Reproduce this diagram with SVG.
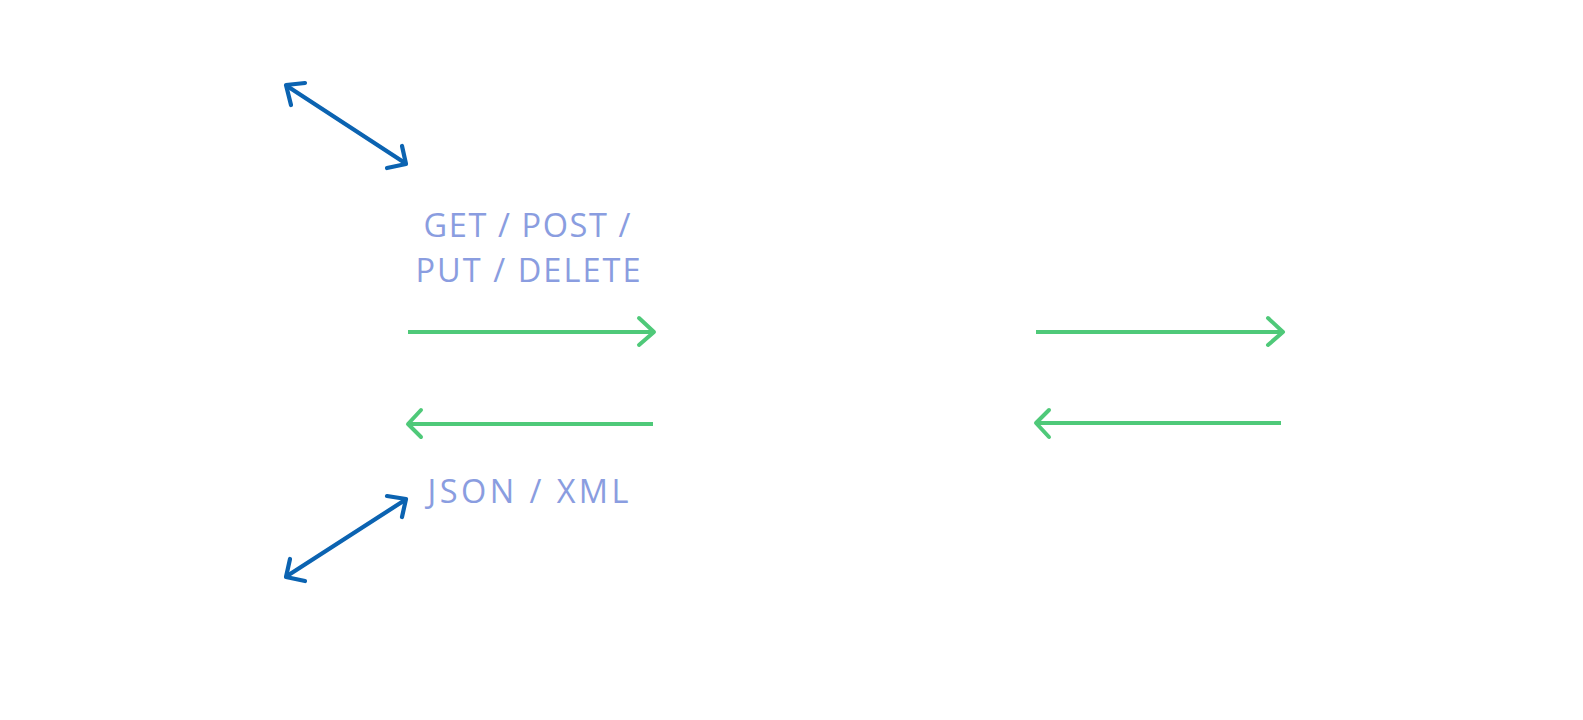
<svg xmlns="http://www.w3.org/2000/svg" width="1583" height="720" viewBox="0 0 1583 720">
<style>
.bg{fill:#ffffff}
.green{fill:none;stroke:#4fc979;stroke-width:4;stroke-linecap:round;stroke-linejoin:round}
.green-line{fill:none;stroke:#4fc979;stroke-width:4}
.blue{fill:none;stroke:#0b63b1;stroke-width:4.2;stroke-linecap:round;stroke-linejoin:round}
.lbl{font-family:"Open Sans","Liberation Sans",sans-serif;font-size:32.5px;fill:#8a9de0;text-anchor:middle}
</style>
<rect class="bg" x="0" y="0" width="1583" height="720"/>
<g id="labels">
  <g id="label-request">
    <text class="lbl" x="527" y="237" textLength="207" lengthAdjust="spacing">GET / POST /</text>
    <text class="lbl" x="528" y="282" textLength="225" lengthAdjust="spacing">PUT / DELETE</text>
  </g>
  <g id="label-response">
    <text class="lbl" x="528" y="503" textLength="201" lengthAdjust="spacing">JSON / XML</text>
  </g>
</g>
<g id="connectors">
  <g id="client-to-api">
    <line class="green-line" x1="408" y1="332" x2="653" y2="332"/>
    <polyline class="green" points="639,318 654,332 639,345"/>
  </g>
  <g id="api-to-client">
    <line class="green-line" x1="653" y1="424" x2="409" y2="424"/>
    <polyline class="green" points="421,410 408,424 421,437"/>
  </g>
  <g id="api-to-db">
    <line class="green-line" x1="1036" y1="332" x2="1281" y2="332"/>
    <polyline class="green" points="1268,318 1283,332 1268,345"/>
  </g>
  <g id="db-to-api">
    <line class="green-line" x1="1281" y1="423" x2="1037" y2="423"/>
    <polyline class="green" points="1049,410 1036,423 1049,437"/>
  </g>
  <g id="top-double">
    <line class="blue" x1="287" y1="86" x2="405" y2="163"/>
    <polyline class="blue" points="305,83 286,85 291,105"/>
    <polyline class="blue" points="387,168 406,164 402,146"/>
  </g>
  <g id="bottom-double">
    <line class="blue" x1="287" y1="576" x2="405" y2="500"/>
    <polyline class="blue" points="387,496 406,499 402,517"/>
    <polyline class="blue" points="290,559 286,577 305,581"/>
  </g>
</g>
</svg>
